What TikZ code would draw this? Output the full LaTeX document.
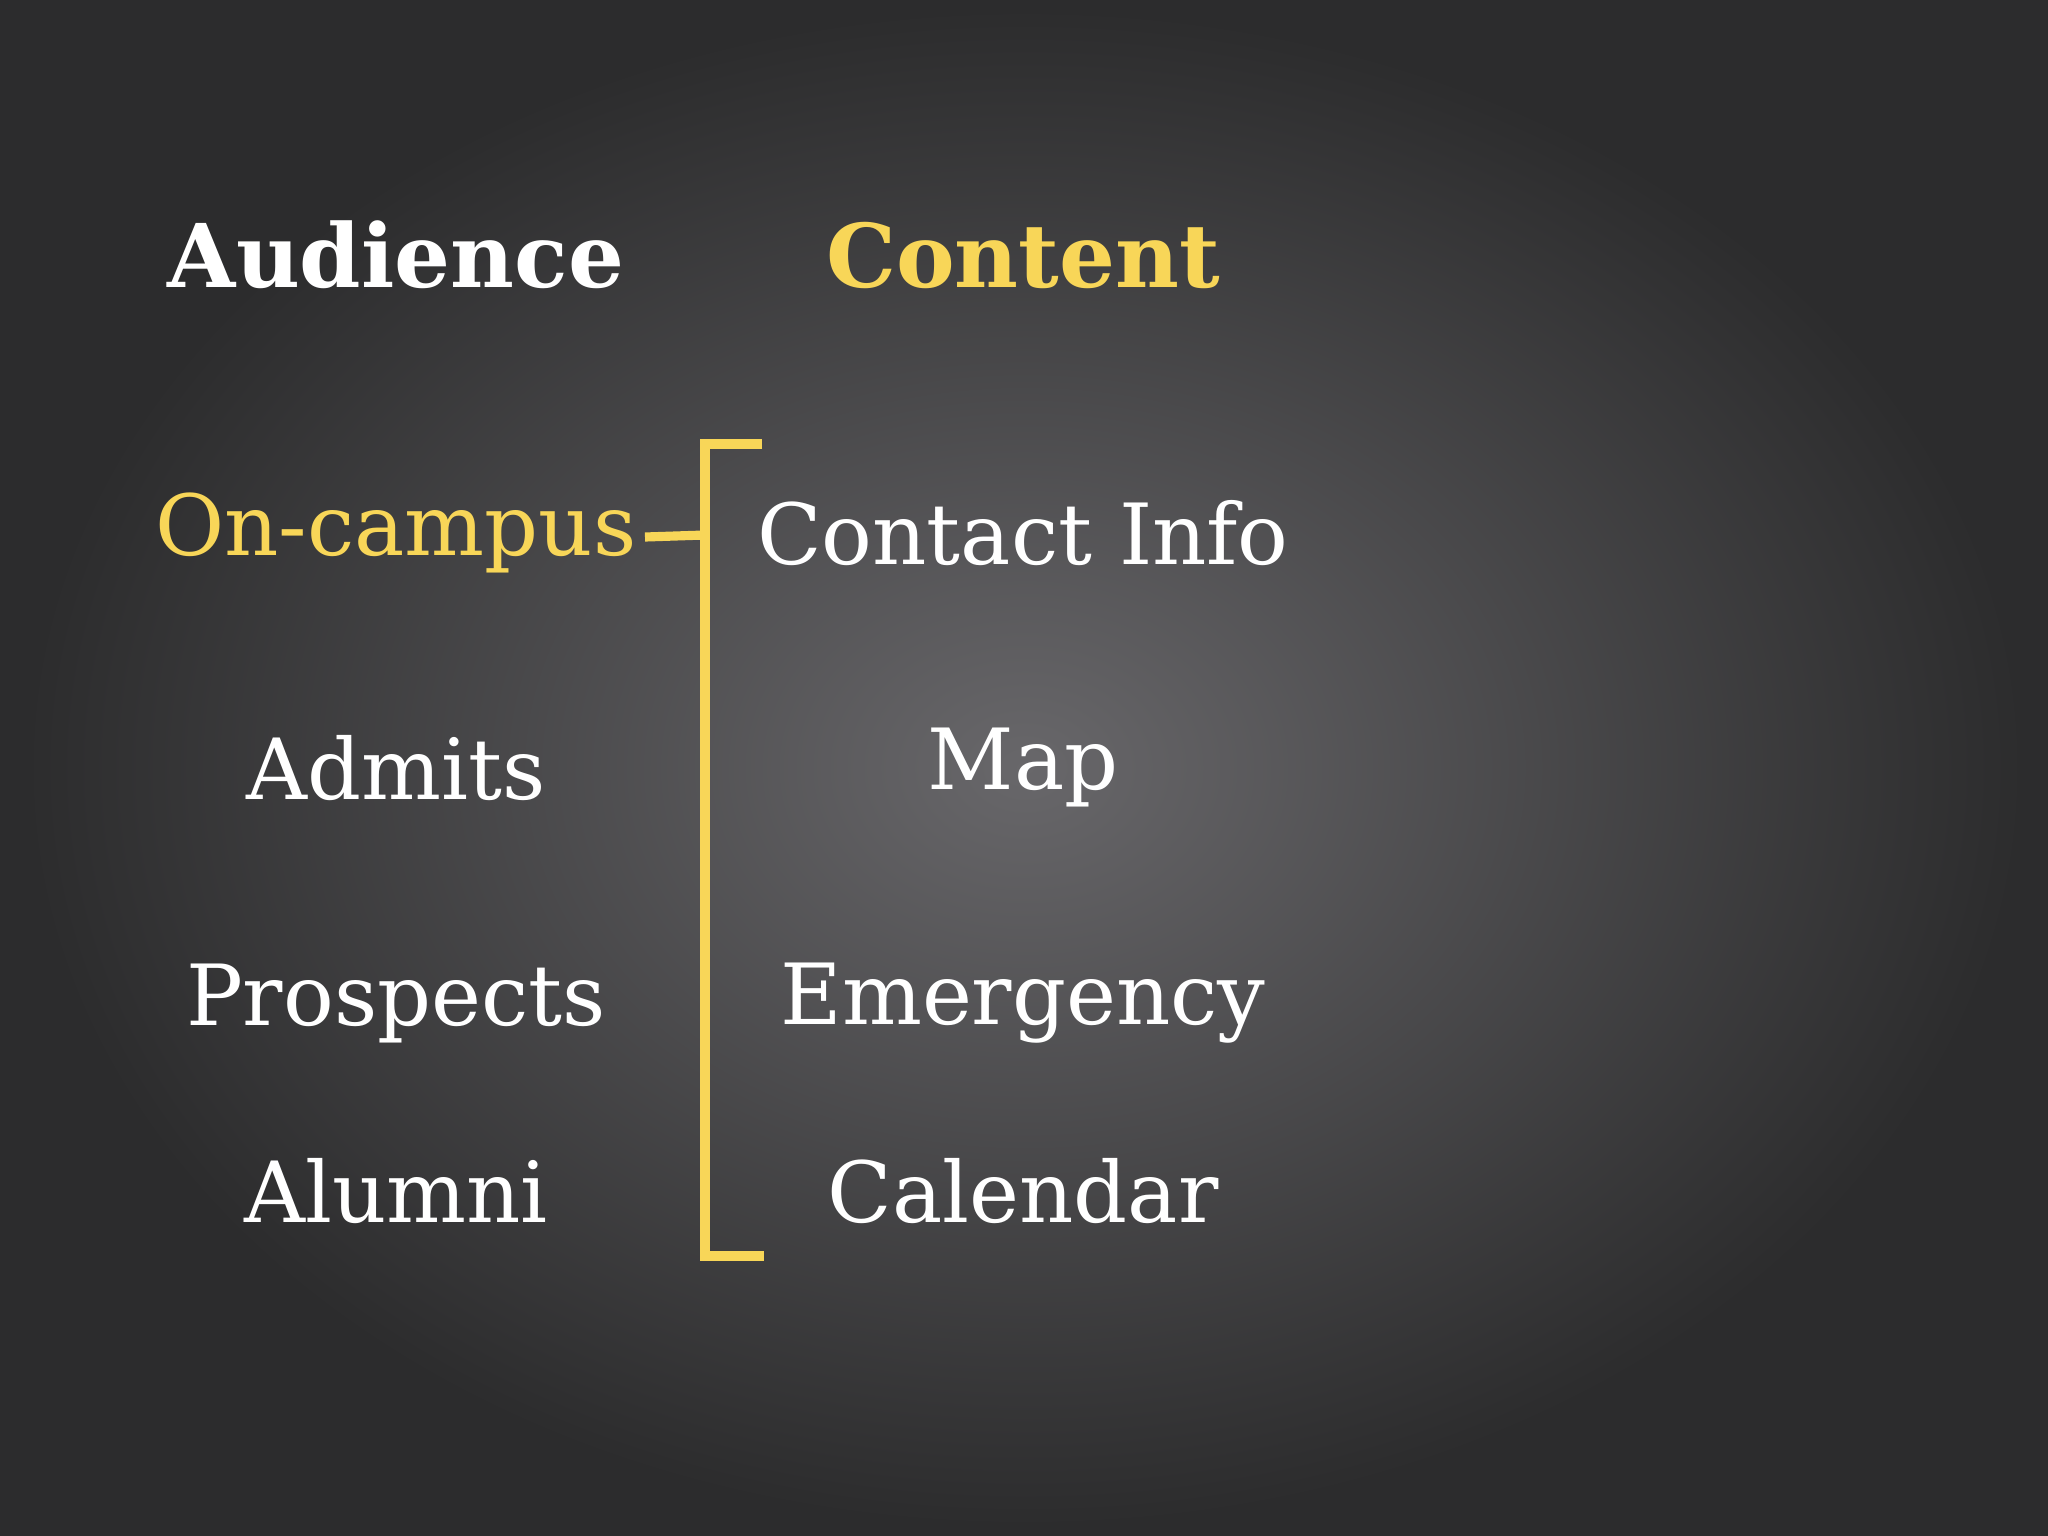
\documentclass[tikz,border=0pt]{standalone}
\usepackage{fontspec}
\setmainfont{DejaVu Serif}
\definecolor{ylw}{HTML}{F8D658}
\definecolor{bgdark}{RGB}{44,44,45}
\definecolor{bgmid}{RGB}{104,103,106}
\begin{document}
\begin{tikzpicture}[x=0.01cm,y=-0.01cm,
  lbl/.style={font=\fontsize{24}{28}\selectfont,text=white,inner sep=0pt},
  hd/.style={font=\fontsize{25}{30}\selectfont\bfseries,inner sep=0pt},
  brk/.style={draw=ylw,line width=2.6pt}]
\fill[bgdark] (0,0) rectangle (2048,1536);
\useasboundingbox (0,0) rectangle (2048,1536);
\begin{scope}
\clip (0,0) rectangle (2048,1536);
\shade[inner color=bgmid,outer color=bgdark,yscale=0.76] (1025,1010) circle (1000);
\end{scope}
\node[hd,text=white] (aud) at (396,255) {Audience};
\node[hd,text=ylw] (con) at (1023,255) {Content};
\node[lbl,text=ylw] (on) at (396,533) {On-campus};
\node[lbl] (adm) at (396,768) {Admits};
\node[lbl] (pro) at (396,1003) {Prospects};
\node[lbl] (alu) at (396,1191) {Alumni};
\node[lbl] (ci) at (1023,533) {Contact Info};
\node[lbl] (map) at (1023,768) {Map};
\node[lbl] (em) at (1023,1003) {Emergency};
\node[lbl] (cal) at (1023,1191) {Calendar};
\coordinate (bt) at (762,444);
\coordinate (bb) at (764,1256);
\coordinate (tk) at (645,537);
\draw[brk] (bt) -- (705,444) -- (705,1256) -- (bb);
\draw[brk] (tk) -- (705,535);
\end{tikzpicture}
\end{document}
